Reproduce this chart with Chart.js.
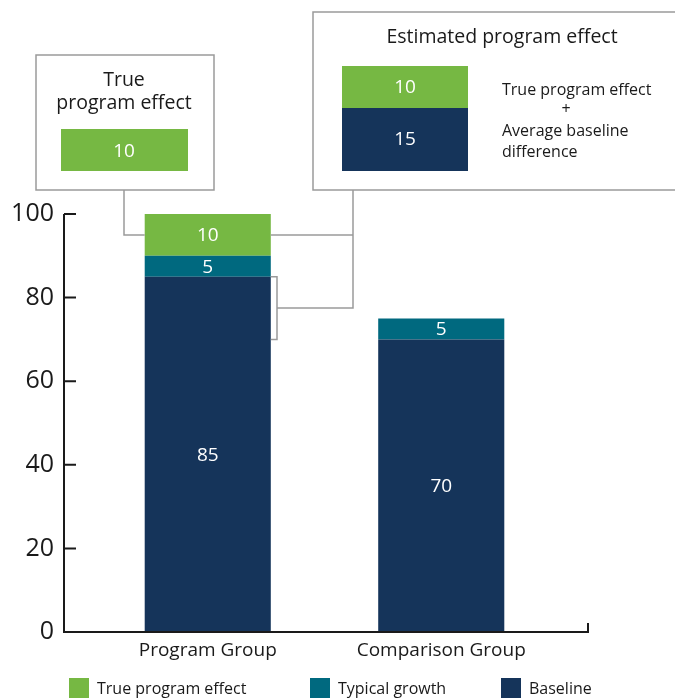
<!DOCTYPE html>
<html>
<head>
<meta charset="utf-8">
<script src="https://cdn.jsdelivr.net/npm/chart.js@4"></script>
<style>
  html, body { margin: 0; padding: 0; background: #fff; }
  #wrap { width: 675px; height: 698px; position: relative; }
</style>
</head>
<body>
<div id="wrap"><canvas id="effectChart"></canvas></div>
<script>
'use strict';

// data
let groups = ['Program Group', 'Comparison Group'];
let baseline = [85, 70];
let typicalGrowth = [5, 5];
let trueEffect = [10, null];
let yTicks = [0, 20, 40, 60, 80, 100];

// colours
let green = '#76b843';
let teal = '#00697f';
let navy = '#15345a';
let boxGray = '#9a9a9a';
let textColor = '#1a1a1a';
let fontFamily = '"Open Sans", sans-serif';

// white numbers inside each bar segment
let segmentLabels = {
    id: 'segmentLabels',
    afterDatasetsDraw(chart) {
        let ctx = chart.ctx;
        ctx.save();
        ctx.fillStyle = '#fff';
        ctx.font = '19px ' + fontFamily;
        ctx.textAlign = 'center';
        ctx.textBaseline = 'middle';
        chart.data.datasets.forEach(function (ds, i) {
            let meta = chart.getDatasetMeta(i);
            meta.data.forEach(function (bar, j) {
                let v = ds.data[j];
                if (!v) return;
                ctx.fillText(String(v), bar.x, (bar.y + bar.base) / 2 + 1);
            });
        });
        ctx.restore();
    }
};

// axis lines with inward ticks
let axisLines = {
    id: 'axisLines',
    afterDraw(chart) {
        let ctx = chart.ctx;
        let y = chart.scales.y;
        let axisX = 64;
        let y0 = y.getPixelForValue(0);
        ctx.save();
        ctx.strokeStyle = textColor;
        ctx.lineWidth = 2;
        ctx.beginPath();
        ctx.moveTo(axisX, y.getPixelForValue(100));
        ctx.lineTo(axisX, y0);
        ctx.lineTo(588, y0);
        ctx.lineTo(588, y0 - 9);
        yTicks.forEach(function (t) {
            let py = y.getPixelForValue(t);
            ctx.moveTo(axisX, py);
            ctx.lineTo(axisX + 12, py);
        });
        ctx.stroke();
        ctx.restore();
    }
};

// legend along the bottom, top series first
let bottomLegend = {
    id: 'bottomLegend',
    afterDraw(chart) {
        let ctx = chart.ctx;
        let startX = [69, 310, 501];
        let sets = chart.data.datasets.slice().reverse();
        ctx.save();
        ctx.font = '16px ' + fontFamily;
        ctx.textBaseline = 'middle';
        ctx.textAlign = 'left';
        sets.forEach(function (ds, i) {
            ctx.fillStyle = ds.backgroundColor;
            ctx.fillRect(startX[i], 678, 20, 20);
            ctx.fillStyle = textColor;
            ctx.fillText(ds.label, startX[i] + 28, 689);
        });
        ctx.restore();
    }
};

// callout boxes and connectors
let callouts = {
    id: 'callouts',
    afterDraw(chart) {
        let ctx = chart.ctx;
        let y = chart.scales.y;
        let bar = chart.getDatasetMeta(2).data[0];
        let barLeft = bar.x - bar.width / 2;
        let barRight = bar.x + bar.width / 2;
        let yEffect = y.getPixelForValue(95);
        let yTop = y.getPixelForValue(85);
        let yBottom = y.getPixelForValue(70);
        let yMid = (yTop + yBottom) / 2;

        ctx.save();
        ctx.strokeStyle = boxGray;
        ctx.lineWidth = 1.5;

        // connectors
        ctx.beginPath();
        ctx.moveTo(124, 190);
        ctx.lineTo(124, yEffect);
        ctx.lineTo(barLeft, yEffect);
        ctx.moveTo(barRight, yEffect);
        ctx.lineTo(353, yEffect);
        ctx.moveTo(353, 190);
        ctx.lineTo(353, yMid);
        ctx.lineTo(277, yMid);
        ctx.moveTo(barRight, yTop);
        ctx.lineTo(277, yTop);
        ctx.lineTo(277, yBottom);
        ctx.lineTo(barRight, yBottom);
        ctx.stroke();

        // boxes
        ctx.fillStyle = '#fff';
        ctx.fillRect(36, 55, 178, 135);
        ctx.strokeRect(36, 55, 178, 135);
        ctx.fillRect(313, 12, 380, 178);
        ctx.strokeRect(313, 12, 380, 178);

        // swatches
        ctx.fillStyle = green;
        ctx.fillRect(61, 129, 127, 42);
        ctx.fillRect(342, 66, 126, 42);
        ctx.fillStyle = navy;
        ctx.fillRect(342, 108, 126, 63);

        ctx.textAlign = 'center';
        ctx.textBaseline = 'middle';
        ctx.fillStyle = '#fff';
        ctx.font = '19px ' + fontFamily;
        ctx.fillText('10', 124, 152);
        ctx.fillText('10', 405, 88);
        ctx.fillText('15', 405, 140);

        ctx.fillStyle = textColor;
        ctx.font = '19.5px ' + fontFamily;
        ctx.fillText('True', 124, 80);
        ctx.fillText('program effect', 124, 103);
        ctx.fillText('Estimated program effect', 502, 37);

        ctx.font = '16px ' + fontFamily;
        ctx.fillText('+', 566, 109);
        ctx.textAlign = 'left';
        ctx.fillText('True program effect', 502, 90);
        ctx.fillText('Average baseline', 502, 131);
        ctx.fillText('difference', 502, 152);
        ctx.restore();
    }
};

let ctx = document.getElementById('effectChart').getContext('2d');
new Chart(ctx, {
    type: 'bar',
    data: {
        labels: groups,
        datasets: [
            {
                label: 'Baseline',
                data: baseline,
                backgroundColor: navy
            },
            {
                label: 'Typical growth',
                data: typicalGrowth,
                backgroundColor: teal
            },
            {
                label: 'True program effect',
                data: trueEffect,
                backgroundColor: green
            }
        ]
    },
    options: {
        responsive: true,
        maintainAspectRatio: false,
        animation: false,
        layout: {
            padding: { top: 214, right: 117, left: 0, bottom: 36 }
        },
        datasets: {
            bar: { barPercentage: 0.54, categoryPercentage: 1 }
        },
        plugins: {
            tooltip: { enabled: false },
            legend: { display: false }
        },
        scales: {
            x: {
                stacked: true,
                afterFit(scale) { scale.height = 30; },
                grid: { display: false, drawTicks: false },
                border: { display: false },
                ticks: {
                    color: textColor,
                    padding: 7,
                    font: { family: fontFamily, size: 19 }
                }
            },
            y: {
                stacked: true,
                min: 0,
                max: 100,
                afterFit(scale) { scale.width = 91; },
                afterBuildTicks(scale) {
                    scale.ticks = yTicks.map(function (v) { return { value: v }; });
                },
                grid: { display: false, drawTicks: false },
                border: { display: false },
                ticks: {
                    color: textColor,
                    padding: 37,
                    font: { family: fontFamily, size: 25 }
                }
            }
        }
    },
    plugins: [segmentLabels, axisLines, callouts, bottomLegend]
});
</script>
</body>
</html>
